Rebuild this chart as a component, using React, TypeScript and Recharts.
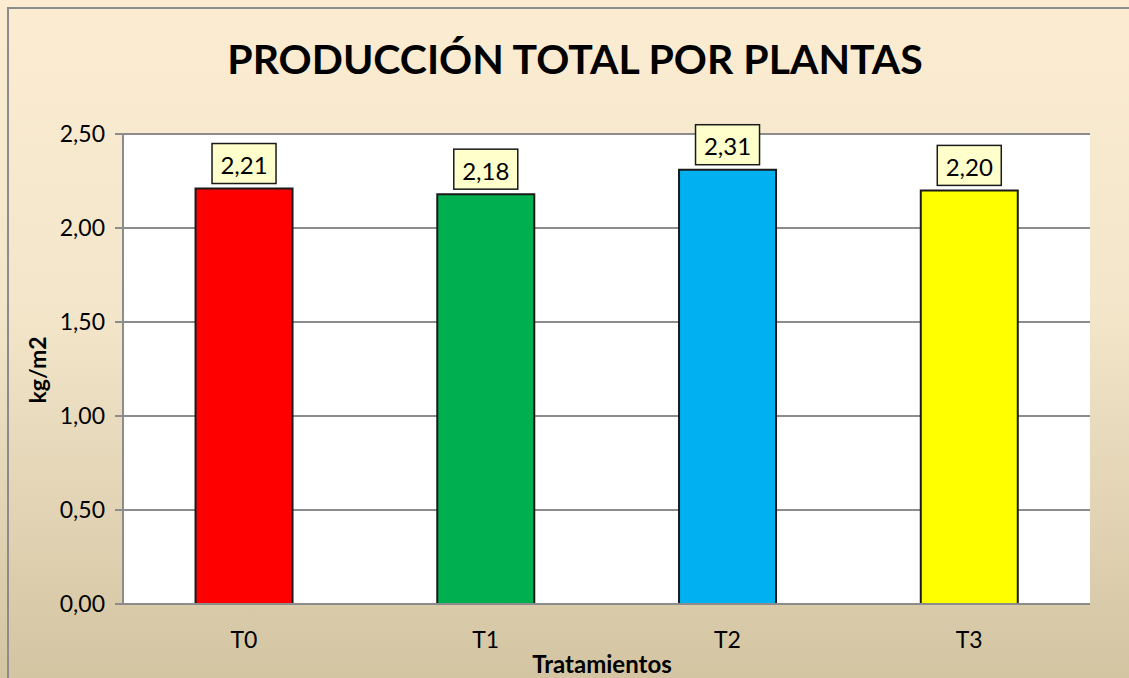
import { BarChart, Bar, XAxis, YAxis, CartesianGrid, Cell, LabelList } from "recharts"

// Data
const categories = ["T0", "T1", "T2", "T3"]
const production = [2.21, 2.18, 2.31, 2.2]
const barColors = ["#FF0000", "#00B050", "#00B0F0", "#FFFF00"]
const yTicks = [0, 0.5, 1, 1.5, 2, 2.5]

const data = categories.map((name, i) => ({ name, value: production[i] }))

const FONT = "Lato, 'Open Sans', sans-serif"
const fmt = (v: number) => v.toFixed(2).replace(".", ",")

const ValueBox = (props: any) => {
  const { x, y, width, value } = props
  const w = 64
  const h = 40
  const cx = x + width / 2
  const top = y - 5 - h
  return (
    <g>
      <rect x={cx - w / 2} y={top} width={w} height={h} fill="#FFFFCC" stroke="#1a1a1a" strokeWidth={1.5} />
      <text x={cx} y={top + h / 2 + 1} textAnchor="middle" dominantBaseline="central" fontSize={24} fontFamily={FONT} fill="#000">
        {fmt(value)}
      </text>
    </g>
  )
}

export default function App() {
  return (
    <div
      style={{
        position: "fixed",
        left: 0,
        top: 0,
        width: 1129,
        height: 678,
        overflow: "hidden",
        fontFamily: FONT,
        background: "linear-gradient(to bottom, #FBECD2 0%, #F3E6CA 45%, #D3C5A2 100%)",
      }}
    >
      <div
        style={{
          position: "absolute",
          left: 7,
          top: 7,
          width: 1122,
          height: 671,
          borderLeft: "2px solid #8c8c8c",
          borderTop: "2px solid #8c8c8c",
        }}
      >
        <div
          style={{
            position: "absolute",
            left: 0,
            width: 1132,
            top: 25,
            textAlign: "center",
            fontSize: 41,
            fontWeight: 700,
            color: "#000",
          }}
        >
          PRODUCCIÓN TOTAL POR PLANTAS
        </div>
        <div
          style={{
            position: "absolute",
            left: 28,
            top: 361,
            transform: "translate(-50%, -50%) rotate(-90deg)",
            fontSize: 23,
            fontWeight: 700,
            whiteSpace: "nowrap",
          }}
        >
          kg/m2
        </div>
        <div
          style={{
            position: "absolute",
            left: 593,
            top: 654,
            transform: "translate(-50%, -50%)",
            fontSize: 24,
            fontWeight: 700,
            whiteSpace: "nowrap",
          }}
        >
          Tratamientos
        </div>
        <BarChart
          width={1110}
          height={660}
          data={data}
          barCategoryGap="30%"
          margin={{ top: 125, right: 29, left: 54, bottom: 25 }}
        >
          <CartesianGrid vertical={false} stroke="#8c8c8c" strokeWidth={2} fill="#FFFFFF" />
          <XAxis
            dataKey="name"
            height={40}
            tickLine={false}
            axisLine={{ stroke: "#8c8c8c", strokeWidth: 2 }}
            tick={{ fontSize: 23, fill: "#000", fontFamily: FONT, dy: 20 }}
          />
          <YAxis
            width={60}
            domain={[0, 2.5]}
            ticks={yTicks}
            tickFormatter={fmt}
            tickSize={8}
            tickLine={{ stroke: "#8c8c8c", strokeWidth: 2 }}
            axisLine={{ stroke: "#8c8c8c", strokeWidth: 2 }}
            tick={{ fontSize: 23, fill: "#000", fontFamily: FONT, dx: -8 }}
          />
          <Bar dataKey="value" stroke="#1a1a1a" strokeWidth={2} isAnimationActive={false}>
            {data.map((d, i) => (
              <Cell key={d.name} fill={barColors[i]} />
            ))}
            <LabelList dataKey="value" content={ValueBox} />
          </Bar>
        </BarChart>
      </div>
    </div>
  )
}
